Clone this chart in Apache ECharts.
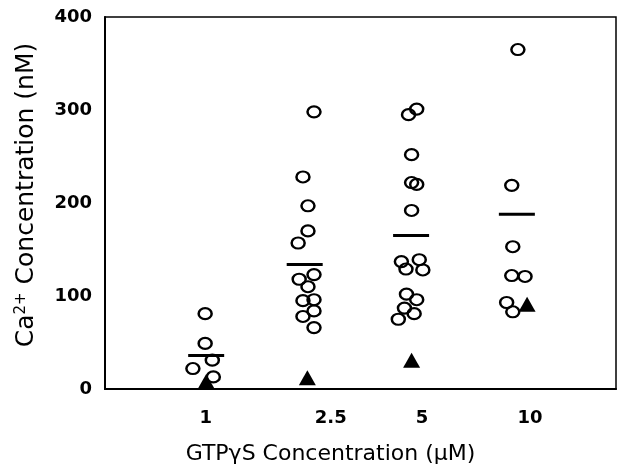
<!DOCTYPE html>
<html>
<head>
<meta charset="utf-8">
<script src="https://cdn.jsdelivr.net/npm/echarts@6/dist/echarts.min.js"></script>
<style>html,body{margin:0;padding:0;background:#fff}#c{width:617px;height:468px}</style>
</head>
<body>
<div id="c"></div>
<script>
// ---- data ----
const categories = ['1', '2.5', '5', '10'];
const yTicks = [0, 100, 200, 300, 400];
// open circles: Ca2+ values (nM) per GTPγS concentration
const circles1 = [81, 49, 31, 22, 13];
const circles25 = [298, 228, 197, 170, 157, 123, 118, 110, 96, 95, 84, 78, 66];
const circles5 = [301, 295, 252, 222, 220, 192, 139, 137, 129, 128, 102, 96, 87, 81, 75];
const circles10 = [365, 219, 153, 122, 121, 93, 83];
// filled triangles
const triangles = [8, 12, 31, 91];
// group means (horizontal bars)
const means = [36, 134, 165, 188];

// ---- layout (horizontal jitter in axis units, label slots) ----
const jitter1 = [-0.02, -0.02, 0.05, -0.14, 0.06];
const jitter25 = [0.045, -0.063, -0.014, -0.014, -0.11, 0.045, -0.10, -0.014, 0.045, -0.063, 0.045, -0.063, 0.045];
const jitter5 = [0.05, -0.03, 0, 0, 0.05, 0, 0.075, -0.10, -0.055, 0.11, -0.05, 0.05, -0.07, 0.025, -0.13];
const jitter10 = [0.04, -0.02, -0.01, -0.02, 0.11, -0.07, -0.01];
const triJitter = [-0.01, -0.02, 0, 0.13];
const meanJitter = [-0.01, -0.046, -0.005, 0.03];
const labelSlots = [0.985, 2.209, 3.102, 4.159];

const groups = [circles1, circles25, circles5, circles10];
const jitters = [jitter1, jitter25, jitter5, jitter10];
const circlePts = [];
groups.forEach((g, gi) => g.forEach((v, k) => circlePts.push([gi + 1 + jitters[gi][k], v])));
const triPts = triangles.map((v, i) => [i + 1 + triJitter[i], v]);
const meanPts = means.map((v, i) => [i + 1 + meanJitter[i], v]);

const FONT = 'DejaVu Sans';
const chart = echarts.init(document.getElementById('c'), null, {renderer: 'canvas'});
chart.setOption({
  animation: false,
  backgroundColor: '#fff',
  grid: {left: 105, right: 1, top: 17, bottom: 79, show: true, borderColor: '#000', borderWidth: 1.5,
         containLabel: false, outerBoundsMode: 'none'},
  xAxis: {
    type: 'value', min: 0, max: 5,
    axisLine: {show: true, lineStyle: {color: '#000', width: 2}},
    axisTick: {show: false},
    splitLine: {show: false},
    axisLabel: {
      customValues: labelSlots,
      formatter: (v) => {
        const i = labelSlots.findIndex(s => Math.abs(s - v) < 1e-6);
        return i >= 0 ? categories[i] : '';
      },
      margin: 20, color: '#000', fontFamily: FONT, fontWeight: 'bold', fontSize: 18
    },
    name: 'GTPγS Concentration (μM)',
    nameLocation: 'middle', nameGap: 54,
    nameTextStyle: {color: '#000', fontFamily: FONT, fontSize: 22, padding: [0, 60, 0, 0]}
  },
  yAxis: {
    type: 'value', min: yTicks[0], max: yTicks[yTicks.length - 1], interval: 100,
    axisLine: {show: true, lineStyle: {color: '#000', width: 2}},
    axisTick: {show: false},
    splitLine: {show: false},
    axisLabel: {margin: 13, color: '#000', fontFamily: FONT, fontWeight: 'bold', fontSize: 18},
    name: '{n|Ca}{s|2+}{n| Concentration (nM)}',
    nameLocation: 'middle', nameGap: 66,
    nameTextStyle: {
      color: '#000', fontFamily: FONT, fontSize: 25, padding: [0, 0, 0, 16],
      rich: {
        n: {fontFamily: FONT, fontSize: 25, color: '#000'},
        s: {fontFamily: FONT, fontSize: 15, color: '#000', padding: [0, 0, 10, 0]}
      }
    }
  },
  series: [
    {
      type: 'scatter', data: circlePts, symbol: 'circle', symbolSize: [13, 11],
      itemStyle: {color: 'rgba(0,0,0,0)', borderColor: '#000', borderWidth: 2.3, opacity: 1},
      z: 2
    },
    {
      type: 'scatter', data: triPts, symbol: 'triangle', symbolSize: [17, 15],
      itemStyle: {color: '#000', opacity: 1}, z: 3
    },
    {
      type: 'scatter', data: meanPts, symbol: 'rect', symbolSize: [36, 3],
      itemStyle: {color: '#000', opacity: 1}, z: 3
    }
  ]
});
</script>
</body>
</html>
